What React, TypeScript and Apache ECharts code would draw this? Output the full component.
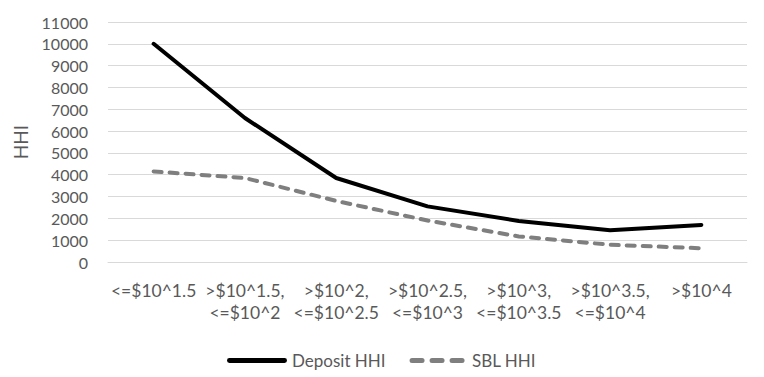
import React, { useEffect, useRef } from "react";
import * as echarts from "echarts";

const categories = [
  "<=$10^1.5",
  ">$10^1.5,\n<=$10^2",
  ">$10^2,\n<=$10^2.5",
  ">$10^2.5,\n<=$10^3",
  ">$10^3,\n<=$10^3.5",
  ">$10^3.5,\n<=$10^4",
  ">$10^4",
];
const depositHHI = [10000, 6600, 3850, 2550, 1880, 1460, 1700];
const sblHHI = [4150, 3850, 2800, 1900, 1170, 790, 630];

const FONT = "Lato, 'Open Sans', sans-serif";

export default function App() {
  const ref = useRef<HTMLDivElement>(null);
  useEffect(() => {
    if (!ref.current) return;
    const chart = echarts.init(ref.current, null, { renderer: "svg" });
    chart.setOption({
      animation: false,
      grid: { left: 108, right: 17, top: 22, bottom: 115, containLabel: false },
      legend: {
        top: 347,
        left: 222,
        itemWidth: 60,
        itemHeight: 5,
        itemGap: 24,
        textStyle: { fontFamily: FONT, fontSize: 17, color: "#595959", padding: [0, 0, 0, 0] },
        data: [
          {
            name: "Deposit HHI",
            icon: "path://M2,0H58A2,2,0,0,1,58,5H2A2,2,0,0,1,2,0Z",
            itemStyle: { color: "#000000" },
          },
          {
            name: "SBL HHI",
            icon: "path://M2,0H12A2,2,0,0,1,12,5H2A2,2,0,0,1,2,0Z M22,0H32A2,2,0,0,1,32,5H22A2,2,0,0,1,22,0Z M42,0H52A2,2,0,0,1,52,5H42A2,2,0,0,1,42,0Z",
            itemStyle: { color: "#7f7f7f" },
          },
        ],
      },
      xAxis: {
        type: "category",
        data: categories,
        boundaryGap: true,
        axisLine: { show: true, lineStyle: { color: "#d9d9d9", width: 1 } },
        axisTick: { show: false },
        axisLabel: {
          interval: 0,
          fontFamily: FONT,
          fontSize: 17.5,
          color: "#595959",
          margin: 17,
          lineHeight: 22,
        },
      },
      yAxis: {
        type: "value",
        min: 0,
        max: 11000,
        interval: 1000,
        name: "HHI",
        nameLocation: "middle",
        nameGap: 78,
        nameTextStyle: { fontFamily: FONT, fontSize: 19, color: "#595959" },
        axisLine: { show: false },
        axisTick: { show: false },
        splitLine: { lineStyle: { color: "#d9d9d9", width: 1 } },
        axisLabel: {
          fontFamily: FONT,
          fontSize: 16,
          color: "#595959",
          margin: 20,
          formatter: (v: number) => String(v),
        },
      },
      series: [
        {
          name: "Deposit HHI",
          type: "line",
          data: depositHHI,
          symbol: "none",
          lineStyle: { color: "#000000", width: 4, cap: "round" },
          itemStyle: { color: "#000000" },
        },
        {
          name: "SBL HHI",
          type: "line",
          data: sblHHI,
          symbol: "none",
          lineStyle: { color: "#7f7f7f", width: 4, type: [8, 8], cap: "round" },
          itemStyle: { color: "#7f7f7f" },
        },
      ],
    });
    return () => chart.dispose();
  }, []);
  return <div ref={ref} style={{ width: 764, height: 377, position: "absolute", left: 0, top: 0 }} />;
}
